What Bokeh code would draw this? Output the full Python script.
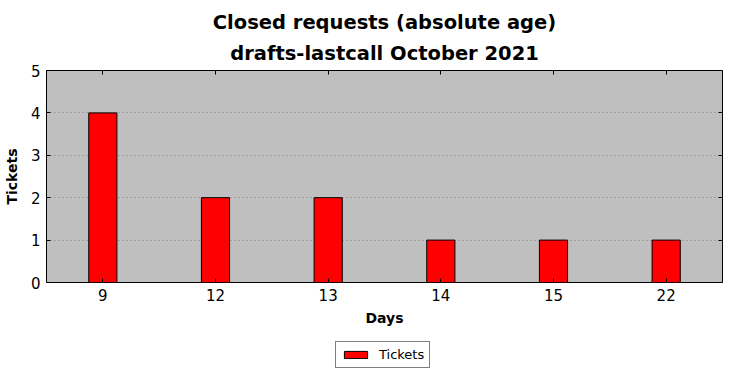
from bokeh.plotting import figure
from bokeh.layouts import column
from bokeh.models import (FactorRange, Range1d, LinearAxis, CategoricalAxis, Legend,
                          LegendItem, Title, ColumnDataSource, FixedTicker,
                          CustomJSTickFormatter)
from bokeh.embed import file_html
from bokeh.resources import INLINE

days = ["9", "12", "13", "14", "15", "22"]
tickets = [4, 2, 2, 1, 1, 1]
y_ticks = [0, 1, 2, 3, 4, 5]
title_line1 = "Closed requests (absolute age)"
title_line2 = "drafts-lastcall October 2021"
series_name = "Tickets"

FONT = "DejaVu Sans"
BAR_STYLE = dict(fill_color="#ff0000", line_color="black", line_width=1)

p = figure(width=730, height=340, output_backend="svg", toolbar_location=None,
           x_range=FactorRange(factors=days, range_padding=0),
           y_range=Range1d(0, 5),
           min_border_left=46, min_border_right=8, min_border_top=70, min_border_bottom=58,
           x_axis_location=None, y_axis_location=None)
p.background_fill_color = "#bfbfbf"
p.border_fill_color = "white"
p.outline_line_color = "black"
p.outline_line_width = 1

src = ColumnDataSource(dict(days=days, tickets=tickets))
r = p.vbar(x="days", top="tickets", width=0.25, source=src, **BAR_STYLE)

# grid
p.xgrid.visible = False
p.ygrid.ticker = FixedTicker(ticks=y_ticks)
p.ygrid.grid_line_color = "#808080"
p.ygrid.grid_line_dash = "1 3"
p.ygrid.grid_line_width = 1

def style_axis(ax):
    ax.axis_line_color = None
    ax.major_tick_in = 4
    ax.major_tick_out = 0
    ax.minor_tick_in = 0
    ax.minor_tick_out = 0
    ax.major_tick_line_color = "black"
    ax.major_label_text_font = FONT
    ax.major_label_text_font_size = "15px"
    ax.major_label_text_color = "black"

xb = CategoricalAxis(axis_label="Days")
style_axis(xb)
xb.major_label_standoff = 6
xb.axis_label_text_font = FONT
xb.axis_label_text_font_size = "14px"
xb.axis_label_text_font_style = "bold"
xb.axis_label_text_color = "black"
xb.axis_label_standoff = 6
p.add_layout(xb, "below")

yl = LinearAxis(axis_label="Tickets", ticker=FixedTicker(ticks=y_ticks))
style_axis(yl)
yl.major_label_standoff = 6
yl.axis_label_text_font = FONT
yl.axis_label_text_font_size = "14px"
yl.axis_label_text_font_style = "bold"
yl.axis_label_text_color = "black"
yl.axis_label_standoff = 8
p.add_layout(yl, "left")

blank = CustomJSTickFormatter(code="return ''")

xt = CategoricalAxis(formatter=blank)
style_axis(xt)
xt.major_label_standoff = 0
p.add_layout(xt, "above")

yr = LinearAxis(ticker=FixedTicker(ticks=y_ticks), formatter=blank)
style_axis(yr)
yr.major_label_standoff = 0
p.add_layout(yr, "right")

t2 = Title(text=title_line2, align="center", text_font=FONT, text_font_size="19.5px",
           text_font_style="bold", text_color="black", standoff=12)
t1 = Title(text=title_line1, align="center", text_font=FONT, text_font_size="19.5px",
           text_font_style="bold", text_color="black", standoff=0)
p.add_layout(t2, "above")
p.add_layout(t1, "above")

# legend strip below the chart (its bars lie outside its visible range)
lp = figure(width=730, height=38, output_backend="svg", toolbar_location=None,
            x_range=FactorRange(factors=days, range_padding=0), y_range=Range1d(100, 101),
            min_border_left=0, min_border_right=0, min_border_top=0, min_border_bottom=0,
            x_axis_location=None, y_axis_location=None)
lp.grid.visible = False
lp.outline_line_color = None
lp.background_fill_color = "white"
lp.border_fill_color = "white"
lr = lp.vbar(x="days", top="tickets", width=0.25, source=src, **BAR_STYLE)

legend = Legend(items=[LegendItem(label=series_name, renderers=[lr])],
                location=(289, 10), orientation="horizontal",
                border_line_color="black", border_line_width=1,
                background_fill_color="white", background_fill_alpha=1,
                label_text_font=FONT, label_text_font_size="13px",
                label_text_color="black",
                glyph_width=29, glyph_height=9, padding=5, label_standoff=9,
                margin=0)
lp.add_layout(legend, "center")

layout = column(p, lp, spacing=0)
open("out.html", "w").write(file_html(layout, INLINE))
